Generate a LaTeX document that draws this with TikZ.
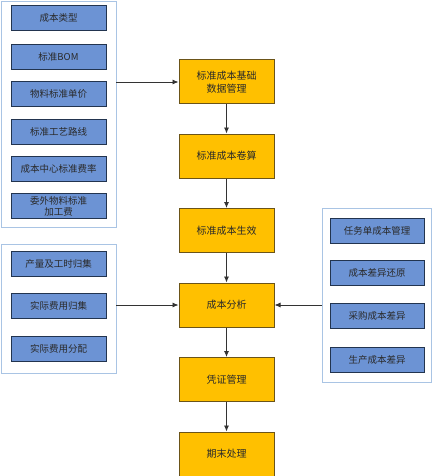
\documentclass[tikz,border=0pt]{standalone}
\usepackage{fontspec}
\setmainfont{Noto Sans CJK SC}
\usetikzlibrary{arrows.meta}
\definecolor{boxblue}{HTML}{6C93D4}
\definecolor{boxblueline}{HTML}{22344F}
\definecolor{boxyellow}{HTML}{FFC000}
\definecolor{boxyellowline}{HTML}{6B5418}
\definecolor{contline}{HTML}{A9C4E4}
\definecolor{txt}{HTML}{2A2A2A}
\tikzset{
  container/.style={draw=contline, line width=0.9pt, fill=white, minimum width=115pt},
  bluebox/.style={draw=boxblueline, line width=1pt, fill=boxblue, minimum width=95pt, minimum height=25pt, text=txt, font=\fontsize{9.5}{11}\selectfont, align=center, inner sep=1pt},
  yellowbox/.style={draw=boxyellowline, line width=1pt, fill=boxyellow, minimum width=95pt, minimum height=44pt, text=txt, font=\fontsize{10}{12.5}\selectfont, align=center},
  conn/.style={draw=black!80, line width=0.8pt},
  arr/.style={conn, -{Latex[length=6pt,width=5pt]}}
}
\begin{document}
\begin{tikzpicture}[x=1pt,y=-1pt]
\path[use as bounding box, fill=white] (0,0) rectangle (444,476);
% containers
\node[container, minimum height=226pt] (topc) at (58.5,114) {};
\node[container, minimum height=129pt] (botc) at (58.5,308.5) {};
\node[container, minimum width=109pt, minimum height=174pt] (rc) at (376.5,295) {};
% top-left blue boxes
\node[bluebox] (b1) at (58.5,18) {成本类型};
\node[bluebox] (b2) at (58.5,57) {标准BOM};
\node[bluebox] (b3) at (58.5,94) {物料标准单价};
\node[bluebox] (b4) at (58.5,132) {标准工艺路线};
\node[bluebox] (b5) at (58.5,169) {成本中心标准费率};
\node[bluebox] (b6) at (58.5,206) {委外物料标准\\加工费};
% bottom-left blue boxes
\node[bluebox] (c1) at (58.5,263.5) {产量及工时归集};
\node[bluebox] (c2) at (58.5,306) {实际费用归集};
\node[bluebox] (c3) at (58.5,349) {实际费用分配};
% right blue boxes
\node[bluebox, minimum width=94pt] (r1) at (377,230.5) {任务单成本管理};
\node[bluebox, minimum width=94pt] (r2) at (377,273) {成本差异还原};
\node[bluebox, minimum width=94pt] (r3) at (377,316) {采购成本差异};
\node[bluebox, minimum width=94pt] (r4) at (377,360) {生产成本差异};
% yellow flow
\node[yellowbox] (y1) at (226.5,82) {标准成本基础\\数据管理};
\node[yellowbox] (y2) at (226.5,156) {标准成本卷算};
\node[yellowbox] (y3) at (226.5,230.5) {标准成本生效};
\node[yellowbox] (y4) at (226.5,305) {成本分析};
\node[yellowbox] (y5) at (226.5,379.5) {凭证管理};
\node[yellowbox] (y6) at (226.5,454) {期末处理};
% connectors
\draw[arr] (y1) -- (y2);
\draw[arr] (y2) -- (y3);
\draw[arr] (y3) -- (y4);
\draw[arr] (y4) -- (y5);
\draw[arr] (y5) -- (y6);
\draw[arr] (topc.east |- y1.west) -- (y1.west);
\draw[arr] (botc.east |- y4.west) -- (y4.west);
\draw[arr] (rc.west |- y4.east) -- (y4.east);
\end{tikzpicture}
\end{document}
